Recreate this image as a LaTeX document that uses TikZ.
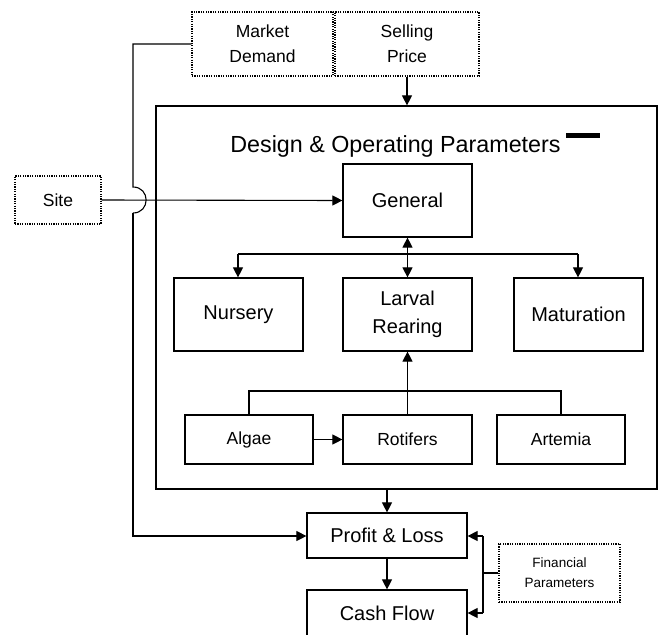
\documentclass[tikz,border=0pt]{standalone}
\usepackage{fontspec}
\setmainfont{Liberation Sans}
\usetikzlibrary{arrows.meta}
\begin{document}
\begin{tikzpicture}[x=1pt,y=-1pt,
  box/.style={draw, line width=1.2pt, inner sep=0pt, align=center},
  dotbox/.style={draw, line width=1.4pt, dash pattern=on 1.2pt off 1.2pt, inner sep=0pt, align=center},
  conn/.style={line width=1.1pt},
  arr/.style={conn, -{Triangle[length=10pt,width=10pt]}},
  darr/.style={conn, {Triangle[length=10pt,width=10pt]}-{Triangle[length=10pt,width=10pt]}},
  midf/.style={font=\fontsize{17.5}{25}\selectfont},
  bigf/.style={font=\fontsize{20}{28}\selectfont},
  smallf/.style={font=\fontsize{13.5}{20}\selectfont}]
\useasboundingbox (0,0) rectangle (660,634);
\fill[white] (0,0) rectangle (660,634);

% top inputs
\node[dotbox, midf, minimum width=141pt, minimum height=64pt] (md) at (262.5,44) {Market\\Demand};
\node[dotbox, midf, minimum width=144pt, minimum height=64pt] (sp) at (407,44) {Selling\\Price};
\node[dotbox, midf, minimum width=86pt, minimum height=48pt] (site) at (58,200) {Site};

% big frame
\node[box, minimum width=501pt, minimum height=383pt] (dop) at (406.5,297.5) {};
\node[font=\fontsize{23.3}{28}\selectfont, anchor=base, inner sep=0pt] (title) at (395.5,152) {Design \& Operating Parameters};
\fill[black] (566,133) rectangle (600,138);

% inner boxes
\node[box, bigf, minimum width=129pt, minimum height=73pt] (gen) at (407.5,200.5) {General};
\node[box, bigf, minimum width=129pt, minimum height=73pt] (nur) at (238.5,314.5) {Nursery};
\node[box, bigf, minimum width=129pt, minimum height=73pt] (lar) at (407.5,314.5) {Larval\\Rearing};
\node[box, bigf, minimum width=129pt, minimum height=73pt] (mat) at (578.5,314.5) {Maturation};
\node[box, midf, minimum width=128pt, minimum height=49pt] (alg) at (249,439.5) {Algae};
\node[box, midf, minimum width=129pt, minimum height=49pt] (rot) at (407.5,439.5) {Rotifers};
\node[box, midf, minimum width=128pt, minimum height=49pt] (art) at (561,439.5) {Artemia};

% outputs
\node[box, bigf, minimum width=160pt, minimum height=45pt] (pl) at (387,535.5) {Profit \& Loss};
\node[box, bigf, minimum width=160pt, minimum height=46pt] (cf) at (387,613) {Cash Flow};
\node[dotbox, smallf, minimum width=121pt, minimum height=58pt] (fin) at (559.5,573) {Financial\\Parameters};

% coordinates
\coordinate (mdL) at (133,44);
\coordinate (j1) at (133,187);
\coordinate (j2) at (133,213);
\coordinate (mdB) at (133,536);
\coordinate (brL) at (238,254);
\coordinate (brR) at (578,254);
\coordinate (aU) at (249,391);
\coordinate (arU) at (561,391);
\coordinate (fx) at (483,573);
\coordinate (fT) at (483,536);
\coordinate (fB) at (483,613);

% connectors
\draw[conn] (md.west |- 0,44) -- (mdL) -- (j1) .. controls (150.5,187) and (150.5,213) .. (j2);
\draw[arr] (j2) -- (mdB) -- (pl.west |- mdB);
\draw[arr] (site.east) -- (gen.west);
\draw[arr] (sp.south) -- (sp.south |- dop.north);
\draw[darr] (gen.south) -- (lar.north);
\draw[conn] (brL) -- (brR);
\draw[arr] (brL) -- (nur.north -| brL);
\draw[arr] (brR) -- (mat.north -| brR);
\draw[conn] (alg.north -| aU) -- (aU) -- (arU) -- (art.north -| arU);
\draw[arr] (rot.north) -- (lar.south);
\draw[arr] (alg.east) -- (rot.west);
\draw[arr] (pl.north |- dop.south) -- (pl.north);
\draw[arr] (pl.south) -- (cf.north);
\draw[conn] (fin.west) -- (fx);
\draw[arr] (fT) -- (pl.east |- fT);
\draw[conn] (fT) -- (fB);
\draw[arr] (fB) -- (cf.east |- fB);
\end{tikzpicture}
\end{document}
